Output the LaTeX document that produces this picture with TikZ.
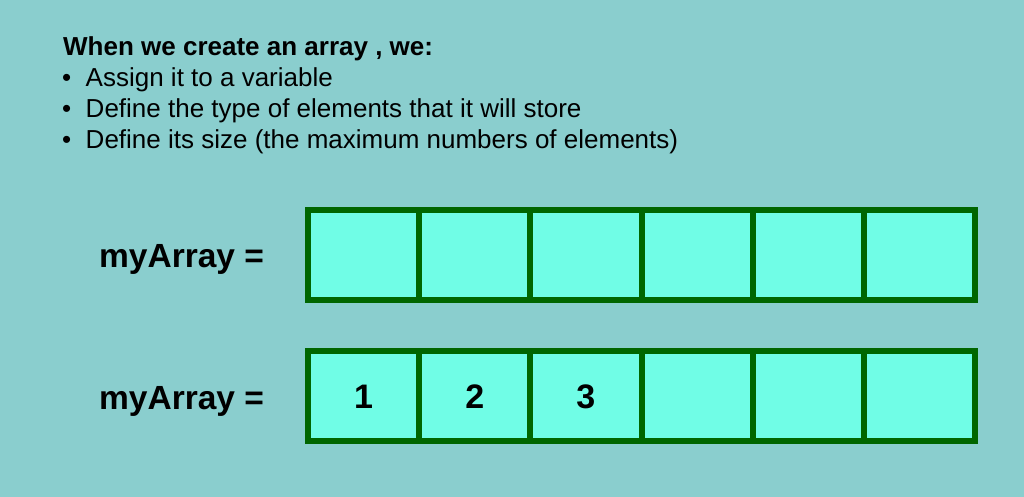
\documentclass[tikz,border=0pt]{standalone}
\usepackage{fontspec}
\setmainfont{Liberation Sans}
\usetikzlibrary{positioning}
\definecolor{slidebg}{RGB}{138,206,206}
\definecolor{cellfill}{RGB}{112,253,230}
\definecolor{celledge}{RGB}{0,102,0}
\begin{document}
\begin{tikzpicture}[
        x=1pt, y=-1pt,
        cell/.style={draw=celledge, fill=cellfill, line width=6pt, line join=miter,
            rectangle, inner sep=0pt, minimum width=111.2pt, minimum height=90pt},
        value/.style={inner sep=0pt, yshift=-1.5pt, font=\fontsize{34}{38}\selectfont\bfseries},
        header/.style={anchor=base west, inner sep=0pt, font=\fontsize{26}{30}\selectfont\bfseries},
        bullet line/.style={anchor=base west, inner sep=0pt, font=\fontsize{26}{30}\selectfont},
        array label/.style={anchor=base west, inner sep=0pt, font=\fontsize{33.5}{38}\selectfont\bfseries},
        every node/.style={color=black}
        ]
        % background
        \fill[slidebg] (0,0) rectangle (1024,497);
        \useasboundingbox (0,0) rectangle (1024,497);
        % Text
        \node[header] (title) at (63,56) {When we create an array , we:};
        \node[bullet line] (b1) at (62,87) {\textbullet\ \ Assign it to a variable};
        \node[bullet line] (b2) at (62,118) {\textbullet\ \ Define the type of elements that it will store};
        \node[bullet line] (b3) at (62,149) {\textbullet\ \ Define its size (the maximum numbers of elements)};
        % First array
        \node[array label] (lblA) at (99,267) {myArray =};
        \node[cell] (a1) at (363.6,255) {};
        \node[cell] (a2) at (474.8,255) {};
        \node[cell] (a3) at (585.9,255) {};
        \node[cell] (a4) at (697.1,255) {};
        \node[cell] (a5) at (808.3,255) {};
        \node[cell] (a6) at (919.4,255) {};
        % Second array
        \node[array label] (lblB) at (99,409) {myArray =};
        \node[cell] (c1) at (363.6,395.5) {};
        \node[cell] (c2) at (474.8,395.5) {};
        \node[cell] (c3) at (585.9,395.5) {};
        \node[cell] (c4) at (697.1,395.5) {};
        \node[cell] (c5) at (808.3,395.5) {};
        \node[cell] (c6) at (919.4,395.5) {};
        % Values
        \node[value] (v1) at (c1) {1};
        \node[value] (v2) at (c2) {2};
        \node[value] (v3) at (c3) {3};
    \end{tikzpicture}
\end{document}
